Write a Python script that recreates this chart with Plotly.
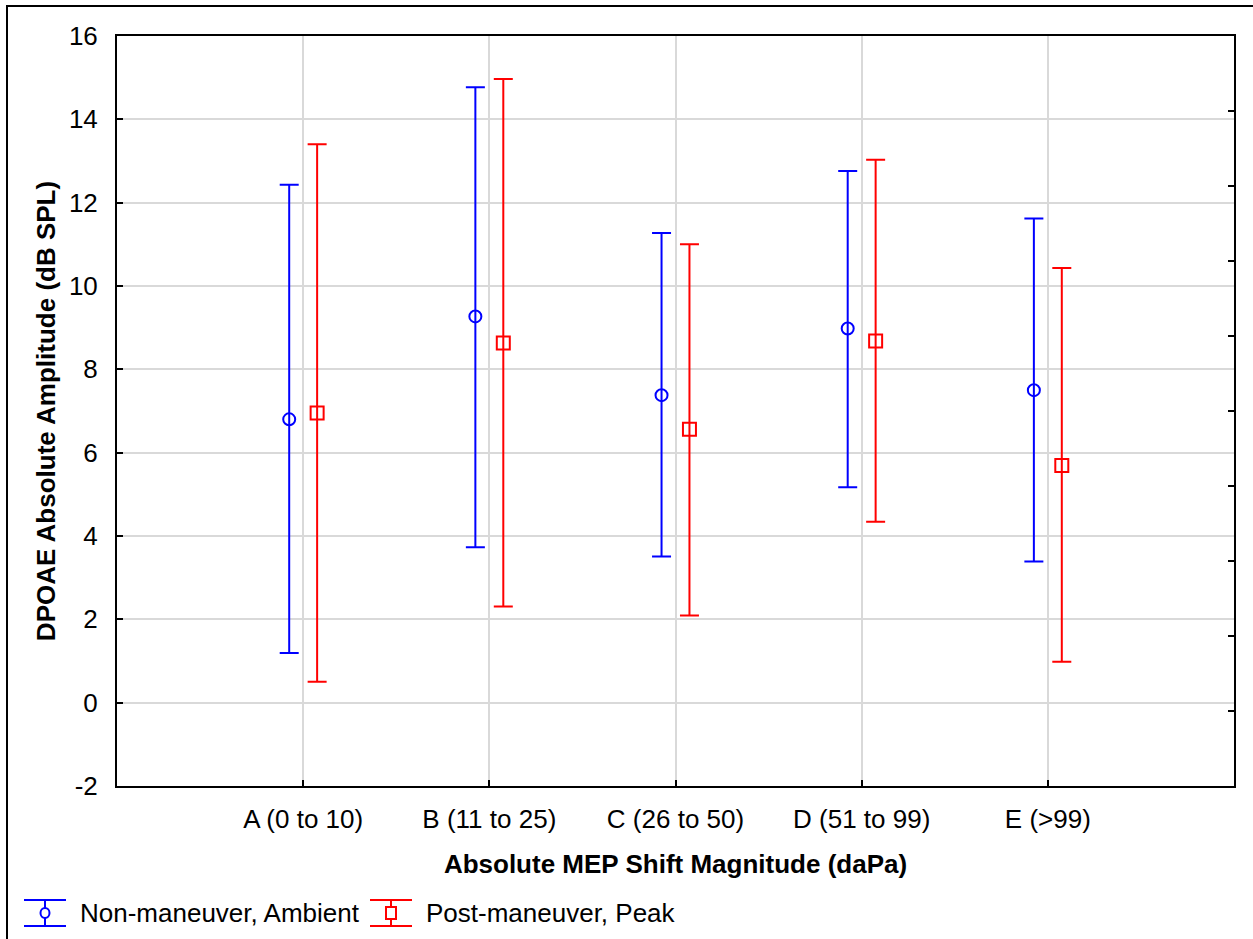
import plotly.graph_objects as go

categories = ["A (0 to 10)", "B (11 to 25)", "C (26 to 50)", "D (51 to 99)", "E (>99)"]
cat_pos = [0, 1, 2, 3, 4]

ambient_mean = [6.80, 9.27, 7.38, 8.98, 7.50]
ambient_upper = [12.43, 14.77, 11.27, 12.76, 11.62]
ambient_lower = [1.19, 3.73, 3.51, 5.17, 3.39]

peak_mean = [6.95, 8.63, 6.56, 8.68, 5.69]
peak_upper = [13.40, 14.97, 11.00, 13.03, 10.43]
peak_lower = [0.50, 2.31, 2.09, 4.34, 0.98]

right_ticks = [-2 + 1.8 * k for k in range(11)]
y_ticks = list(range(-2, 17, 2))
y_ticktext = [str(v) for v in y_ticks]

offset = 0.075
FONT = "Liberation Sans, Arial, sans-serif"
FS = 26

fig = go.Figure()

def add_series(means, upper, lower, color, symbol, size, name, sign):
    xs = [p + sign * offset for p in cat_pos]
    fig.add_trace(go.Scatter(
        x=xs, y=means, mode="markers", name=name,
        marker=dict(symbol=symbol, size=size, color=color, line=dict(width=2, color=color)),
        error_y=dict(type="data", symmetric=False,
                     array=[u - m for u, m in zip(upper, means)],
                     arrayminus=[m - l for m, l in zip(means, lower)],
                     color=color, thickness=2, width=9.5),
        showlegend=False, cliponaxis=False,
    ))

add_series(ambient_mean, ambient_upper, ambient_lower, "#0000ff", "circle-open", 12, "Non-maneuver, Ambient", -1)
add_series(peak_mean, peak_upper, peak_lower, "#ff0000", "square-open", 13, "Post-maneuver, Peak", 1)

# invisible trace to carry the right-side axis
fig.add_trace(go.Scatter(x=[None], y=[None], yaxis="y2", showlegend=False, hoverinfo="skip"))

fig.update_layout(
    width=1253, height=939,
    margin=dict(l=117, r=19, t=36, b=153),
    paper_bgcolor="white", plot_bgcolor="white",
    font=dict(family=FONT, size=FS, color="black"),
    xaxis=dict(range=[-1, 5], tickvals=cat_pos, ticktext=categories,
               showgrid=True, gridcolor="#d9d9d9", gridwidth=2,
               showline=True, linecolor="black", linewidth=2, mirror=True,
               ticks="inside", ticklen=6, tickwidth=2, tickcolor="black",
               ticklabelstandoff=9, zeroline=False,
               tickfont=dict(size=FS),
               title=dict(text="<b>Absolute MEP Shift Magnitude (daPa)</b>", standoff=22,
                          font=dict(size=FS))),
    yaxis=dict(range=[-2, 16], tickvals=y_ticks, ticktext=y_ticktext,
               showgrid=True, gridcolor="#d9d9d9", gridwidth=2,
               showline=True, linecolor="black", linewidth=2, mirror=True,
               ticks="inside", ticklen=6, tickwidth=2, tickcolor="black",
               ticklabelstandoff=12, zeroline=False,
               tickfont=dict(size=FS),
               title=dict(text="<b>DPOAE Absolute Amplitude (dB SPL)</b>", standoff=6,
                          font=dict(size=FS))),
    yaxis2=dict(range=[-2, 16], overlaying="y", side="right", tickvals=right_ticks,
                showticklabels=False, ticks="inside", ticklen=6, tickwidth=2,
                tickcolor="black", showgrid=False, zeroline=False, showline=False),
)

# outer frame
W, H = 1117, 750
fig.add_shape(type="rect", xref="paper", yref="paper",
              x0=(7 - 117) / W, x1=(1262 - 117) / W,
              y0=-(950 - 786) / H, y1=1 + 30 / H,
              line=dict(color="black", width=2), layer="above")

def px_x(px):
    return (px - 117) / W

def px_y(py):
    return (786 - py) / H

# custom legend (error-bar glyphs)
legend_items = [("Non-maneuver, Ambient", "#0000ff", 24, 80),
                ("Post-maneuver, Peak", "#ff0000", 370, 426)]
for name, color, gx, tx in legend_items:
    cx = gx + 21
    fig.add_shape(type="line", xref="paper", yref="paper", x0=px_x(gx), x1=px_x(gx + 42),
                  y0=px_y(900), y1=px_y(900), line=dict(color=color, width=2))
    fig.add_shape(type="line", xref="paper", yref="paper", x0=px_x(gx), x1=px_x(gx + 42),
                  y0=px_y(926), y1=px_y(926), line=dict(color=color, width=2))
    fig.add_shape(type="line", xref="paper", yref="paper", x0=px_x(cx), x1=px_x(cx),
                  y0=px_y(900), y1=px_y(926), line=dict(color=color, width=2))
    fig.add_annotation(xref="paper", yref="paper", x=px_x(tx), y=px_y(913),
                       text=name, showarrow=False, xanchor="left", yanchor="middle",
                       xshift=-2, font=dict(family=FONT, size=FS, color="black"))

fig.add_shape(type="circle", xref="paper", yref="paper",
              x0=px_x(45 - 4.5), x1=px_x(45 + 4.5), y0=px_y(913 - 5), y1=px_y(913 + 5),
              line=dict(color="#0000ff", width=2), fillcolor="white")
fig.add_shape(type="rect", xref="paper", yref="paper",
              x0=px_x(391 - 5), x1=px_x(391 + 5), y0=px_y(913 - 6), y1=px_y(913 + 6),
              line=dict(color="#ff0000", width=2), fillcolor="white")

fig.write_html("out.html")
